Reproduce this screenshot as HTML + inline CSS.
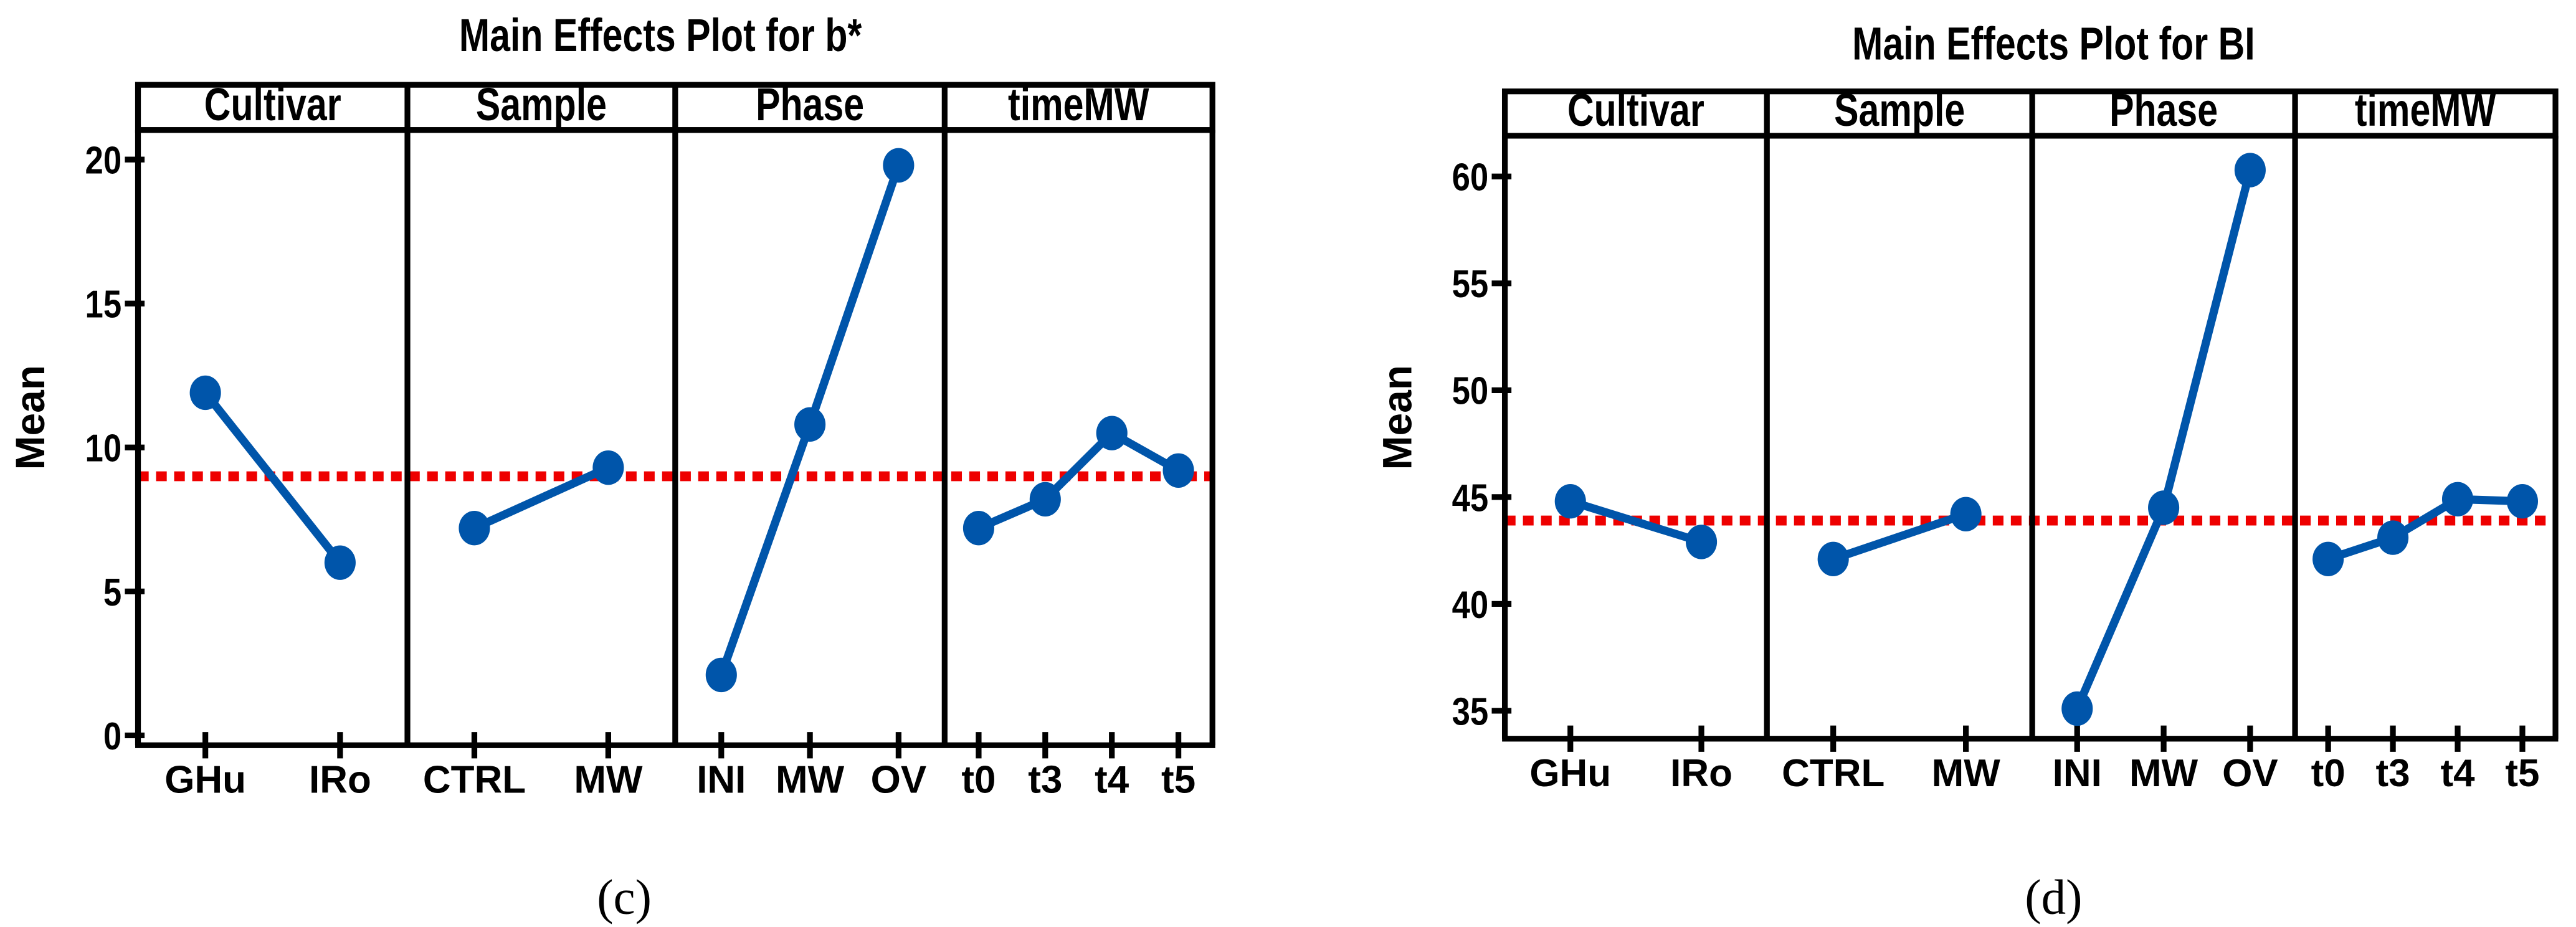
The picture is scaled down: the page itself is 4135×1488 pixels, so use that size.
<!DOCTYPE html>
<html><head><meta charset="utf-8"><style>
html,body{margin:0;padding:0;background:#fff;}
svg{display:block;}
text{font-family:"Liberation Sans",sans-serif;font-weight:bold;fill:#000;}
</style></head><body>
<svg id="svg" width="4135" height="1488" viewBox="0 0 1568 564" xmlns="http://www.w3.org/2000/svg"></svg>
<script>
// Chart (c): b*
const panelsC = ["Cultivar","Sample","Phase","timeMW"];
const catsC = [["GHu","IRo"],["CTRL","MW"],["INI","MW","OV"],["t0","t3","t4","t5"]];
const valsC = [[11.9,6.0],[7.2,9.3],[2.1,10.8,19.8],[7.2,8.2,10.5,9.2]];
const ticksC = [0,5,10,15,20];
const refC = 9.0;
// Chart (d): BI
const panelsD = ["Cultivar","Sample","Phase","timeMW"];
const catsD = [["GHu","IRo"],["CTRL","MW"],["INI","MW","OV"],["t0","t3","t4","t5"]];
const valsD = [[44.8,42.9],[42.1,44.2],[35.1,44.5,60.3],[42.1,43.1,44.9,44.8]];
const ticksD = [35,40,45,50,55,60];
const refD = 43.9;

const NS="http://www.w3.org/2000/svg";
const svg=document.getElementById('svg');
function mk(tag,attrs,parent){const e=document.createElementNS(NS,tag);for(const k in attrs)e.setAttribute(k,attrs[k]);(parent||svg).appendChild(e);return e;}
function ctext(parent,x,y,str,size,anchor,sx){
  const t=mk('text',{x:0,y:0,'text-anchor':anchor||'middle','font-size':size,transform:`translate(${x},${y}) scale(${sx||0.8},1)`},parent);
  t.textContent=str;return t;
}

function chart(cfg){
  const g=mk('g',{});
  
  
  const y=v=>cfg.y0+(v-cfg.v0)*(cfg.y1-cfg.y0)/(cfg.v1-cfg.v0);
  const t=ctext(g,cfg.titleX,cfg.titleY,cfg.title,28);
  
  
  const m=mk('text',{x:0,y:0,'text-anchor':'middle','font-size':25,transform:`translate(${cfg.meanX},${cfg.meanY}) rotate(-90)`},g);m.textContent='Mean';
  
  
  cfg.ticks.forEach(v=>{
    mk('line',{x1:cfg.L-8,x2:cfg.L+4,y1:y(v),y2:y(v),stroke:'#000','stroke-width':3.5},g);
    const tl=ctext(g,cfg.L-10,y(v)+8.5,String(v),23.5,'end',0.85);
    
    
  });
  const rl=mk('line',{x1:cfg.L,x2:cfg.R,y1:y(cfg.ref),y2:y(cfg.ref),stroke:'#ee0000','stroke-width':6,'stroke-dasharray':'6.5,4.5'},g);
  
  
  const n=cfg.panels.length;
  cfg.panels.forEach((p,i)=>{
    const x0=cfg.div[i],x1=cfg.div[i+1];
    const ht=ctext(g,(x0+x1)/2,cfg.hB-6,p,28);
    
    
    const cats=cfg.cats[i],vals=cfg.vals[i],k=cats.length;
    const w=x1-x0, pad=w*(k===2?0.25:(k===3?0.171:0.127));
    const xs=cats.map((c,j)=>x0+pad+j*(w-2*pad)/(k-1));
    cats.forEach((c,j)=>{
      mk('line',{x1:xs[j],x2:xs[j],y1:cfg.B-8,y2:cfg.B+8,stroke:'#000','stroke-width':3.5},g);
      const cl=ctext(g,xs[j],cfg.B+29,c,23.5,'middle',1);
      
      
    });
    const pl=mk('polyline',{points:xs.map((x,j)=>x+','+y(vals[j])).join(' '),fill:'none',stroke:'#0055aa','stroke-width':5},g);
    
    
    xs.forEach((x,j)=>{
      const c=mk('ellipse',{cx:x,cy:y(vals[j]),rx:9.5,ry:10.5,fill:'#0055aa'},g);
      
      
    });
  });
  mk('rect',{x:cfg.L,y:cfg.hT,width:cfg.R-cfg.L,height:cfg.hB-cfg.hT,fill:'none',stroke:'#000','stroke-width':3.5},g);
  mk('line',{x1:cfg.L,x2:cfg.L,y1:cfg.hB,y2:cfg.B,stroke:'#000','stroke-width':3.5},g);
  mk('line',{x1:cfg.R,x2:cfg.R,y1:cfg.hB,y2:cfg.B,stroke:'#000','stroke-width':3.5},g);
  mk('line',{x1:cfg.L-1.7,x2:cfg.R+1.7,y1:cfg.B,y2:cfg.B,stroke:'#000','stroke-width':3.5},g);
  for(let i=1;i<n;i++) mk('line',{x1:cfg.div[i],x2:cfg.div[i],y1:cfg.hT,y2:cfg.B,stroke:'#000','stroke-width':3.5},g);
  const cap=mk('text',{x:cfg.capX,y:556,'text-anchor':'middle','font-size':30,style:'font-family:"Liberation Serif",serif;font-weight:normal'},g);cap.textContent=cfg.caption;
  
  
}

chart({name:'chart-b-star',title:'Main Effects Plot for b*',titleX:402,titleY:31,meanX:27,meanY:254,capX:380,
  L:84,R:738,hT:51.5,hB:79,B:453.5,div:[84,248,411,575,738],
  panels:panelsC,cats:catsC,vals:valsC,ticks:ticksC,ref:refC,v0:0,y0:447.5,v1:20,y1:97,caption:'(c)'});
chart({name:'chart-bi',title:'Main Effects Plot for BI',titleX:1250,titleY:36,meanX:859,meanY:254,capX:1250,
  L:916,R:1555.5,hT:55.5,hB:82.5,B:449.5,div:[916,1075.5,1237,1397,1555.5],
  panels:panelsD,cats:catsD,vals:valsD,ticks:ticksD,ref:refD,v0:35,y0:432.5,v1:60,y1:107.3,caption:'(d)'});
</script>
</body></html>
